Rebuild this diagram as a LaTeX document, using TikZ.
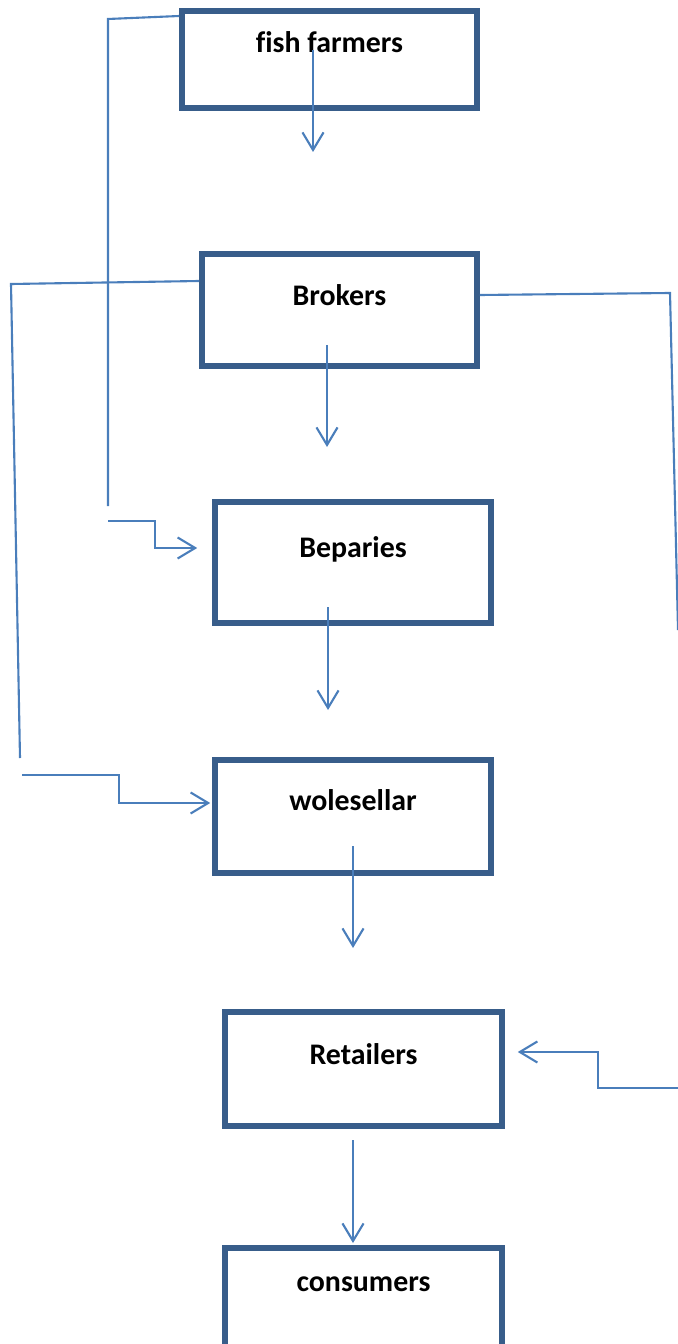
\documentclass[tikz,border=0pt]{standalone}
\usepackage{fontspec}
\setmainfont{Carlito}[Ligatures=NoCommon]
\usetikzlibrary{arrows.meta,positioning}
\definecolor{boxblue}{RGB}{56,93,138}
\definecolor{linkblue}{RGB}{74,126,187}

\begin{document}
\begin{tikzpicture}[
  x=0.02cm, y=-0.02cm,
  every node/.style={font=\fontsize{17}{20}\selectfont\bfseries},
  stage/.style={draw=boxblue, line width=3.2pt, inner sep=0pt, align=center},
  link/.style={draw=linkblue, line width=1.2pt},
  flow/.style={link, -{Straight Barb[length=10pt,width=12pt]}},
]
\useasboundingbox (0,0) rectangle (678,1344);
\node[stage, minimum width=5.90cm, text height=0.84cm, text depth=1.10cm] (farm) at (329.5,59.5) {fish farmers};
\node[stage, minimum width=5.50cm, text height=1.02cm, text depth=1.22cm] (brok) at (339.5,310) {Brokers};
\node[stage, minimum width=5.52cm, text height=1.10cm, text depth=1.32cm] (bep) at (353,562.5) {Beparies};
\node[stage, minimum width=5.52cm, text height=1.00cm, text depth=1.26cm] (whol) at (353,816.5) {wolesellar};
\node[stage, minimum width=5.54cm, text height=1.04cm, text depth=1.24cm] (ret) at (363.5,1069) {Retailers};
\node[stage, minimum width=5.54cm, text height=0.86cm, text depth=1.34cm] (cons) at (363.5,1303) {consumers};
\coordinate (farmout) at (313,50);
\coordinate (brokout) at (327,345);
\coordinate (bepout) at (328,607);
\coordinate (wholout) at (353,846);
\coordinate (retout) at (353,1140);
\coordinate (bepin) at (108,521);
\coordinate (wholin) at (22,775);
\coordinate (retin) at (678,1088);
\draw[flow] (farmout) -- (313,152);
\draw[flow] (brokout) -- (327,447);
\draw[flow] (bepout) -- (328,710);
\draw[flow] (wholout) -- (353,948);
\draw[flow] (retout) -- (353,1243);
\draw[link] (farm.west |- 0,16) -- (108,19) -- (108,506);
\draw[flow] (bepin) -- (155,521) -- (155,548) -- ([xshift=-0.3cm]bep.west |- 0,548);
\draw[link] (brok.west |- 0,281) -- (11,284) -- (20,758);
\draw[flow] (wholin) -- (119,775) -- (119,803) -- ([xshift=-0.04cm]whol.west |- 0,803);
\draw[link] (brok.east |- 0,295) -- (670,293) -- (678,630);
\draw[flow] (retin) -- (598,1088) -- (598,1052) -- ([xshift=0.26cm]ret.east |- 0,1052);
\end{tikzpicture}
\end{document}
